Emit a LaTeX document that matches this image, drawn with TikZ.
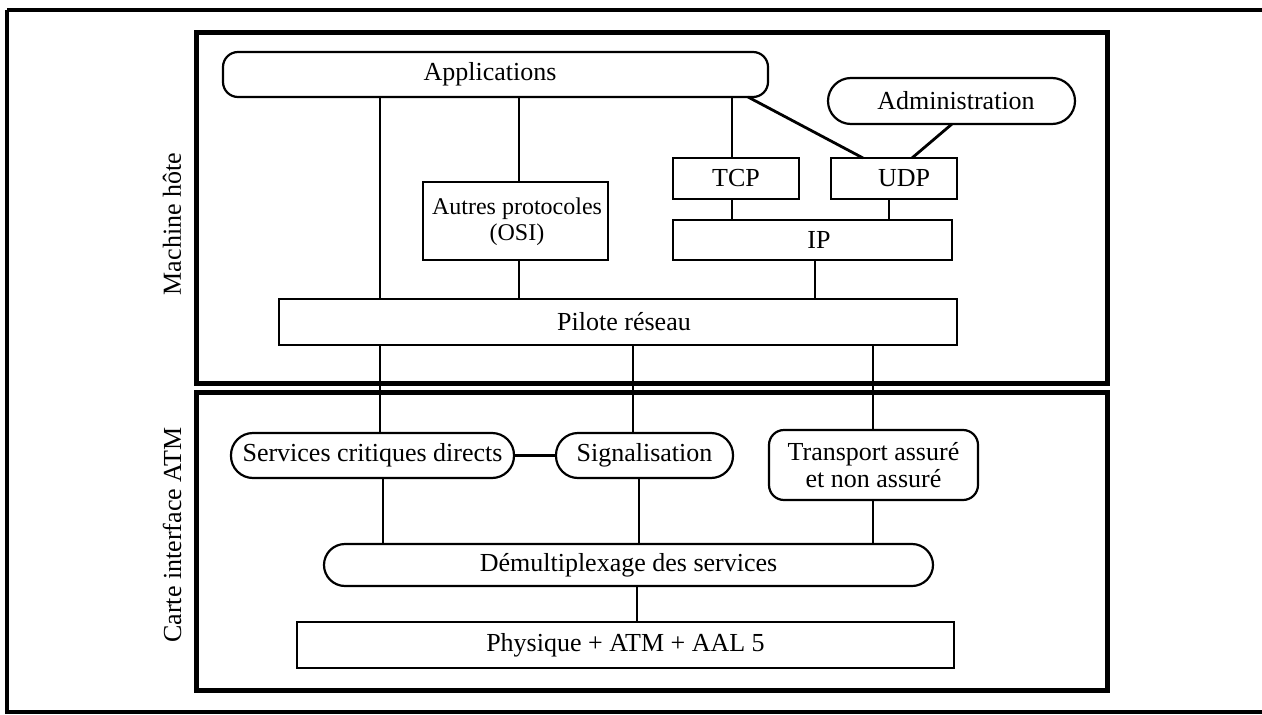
\documentclass[tikz,border=0pt]{standalone}
\usepackage{fontspec}
\setmainfont{Liberation Serif}
\begin{document}
\begin{tikzpicture}[x=1pt,y=-1pt,
  every node/.style={font=\fontsize{26}{27}\selectfont, inner sep=0pt, outer sep=0pt},
  sqbox/.style={draw, line width=2.2pt, rectangle, align=center},
  rbox/.style={draw, line width=2.2pt, rectangle, rounded corners=#1, align=center},
  conn/.style={line width=2.8pt},
  frame/.style={line width=5pt},
  outerframe/.style={line width=3.5pt}]
\useasboundingbox (0,0) rectangle (1262,715);
% frames
\draw[outerframe] (7,10) -- (1275,10) (7,10) -- (7,712) -- (1275,712);
\node[draw, frame, minimum width=911pt, minimum height=351pt, anchor=north west] (host) at (196,32) {};
\node[draw, frame, minimum width=911pt, minimum height=298pt, anchor=north west] (card) at (196,392) {};
\node[rotate=90] (lhost) at (172,224) {Machine hôte};
\node[rotate=90] (lcard) at (172,535) {Carte interface ATM};
% nodes
\node[rbox=15pt, minimum width=545pt, minimum height=45pt] (app) at (495.5,74.5) {};
\node (apptxt) at (490,74.5) {Applications};
\node[rbox=23pt, minimum width=247pt, minimum height=46pt] (admin) at (951.5,101) {};
\node (admintxt) at (956,101) {Administration};
\node[sqbox, minimum width=126pt, minimum height=41pt] (tcp) at (736,178.5) {TCP};
\node[sqbox, minimum width=126pt, minimum height=41pt] (udp) at (894,178.5) {};
\node (udptxt) at (904,178.5) {UDP};
\node[sqbox, minimum width=185pt, minimum height=78pt] (autres) at (515.5,221) {};
\node[align=center, font=\fontsize{24}{26}\selectfont] (autrestxt) at (517,222) {Autres protocoles\\(OSI)};
\node[sqbox, minimum width=279pt, minimum height=40pt] (ip) at (812.5,240) {};
\node (iptxt) at (819,240) {IP};
\node[sqbox, minimum width=678pt, minimum height=46pt] (pilote) at (618,322) {};
\node (pilotetxt) at (624,322) {Pilote réseau};
\node[rbox=22pt, minimum width=283pt, minimum height=45pt] (serv) at (372.5,455.5) {Services critiques directs};
\node[rbox=22pt, minimum width=177pt, minimum height=45pt] (sig) at (644.5,455.5) {Signalisation};
\node[rbox=15pt, minimum width=209pt, minimum height=70pt] (trans) at (873.5,465) {Transport assuré\\et non assuré};
\node[rbox=21pt, minimum width=609pt, minimum height=42pt] (demux) at (628.5,565) {Démultiplexage des services};
\node[sqbox, minimum width=657pt, minimum height=46pt] (phys) at (625.5,645) {Physique + ATM + AAL 5};
% x positions
\coordinate (xa) at (380,0);
\coordinate (xb) at (519,0);
\coordinate (xc) at (732,0);
\coordinate (xd) at (748,0);
\coordinate (xe) at (863,0);
\coordinate (xf) at (952,0);
\coordinate (xg) at (912,0);
\coordinate (xh) at (889,0);
\coordinate (xi) at (815,0);
\coordinate (xj) at (633,0);
\coordinate (xk) at (873,0);
\coordinate (xl) at (383,0);
\coordinate (xm) at (639,0);
\coordinate (xn) at (637,0);
% connectors
\draw[conn] (app.south -| xa) -- (pilote.north -| xa);
\draw[conn] (app.south -| xb) -- (autres.north -| xb);
\draw[conn] (app.south -| xc) -- (tcp.north -| xc);
\draw[conn] (app.south -| xd) -- (udp.north -| xe);
\draw[conn] (admin.south -| xf) -- (udp.north -| xg);
\draw[conn] (tcp.south -| xc) -- (ip.north -| xc);
\draw[conn] (udp.south -| xh) -- (ip.north -| xh);
\draw[conn] (autres.south -| xb) -- (pilote.north -| xb);
\draw[conn] (ip.south -| xi) -- (pilote.north -| xi);
\draw[conn] (pilote.south -| xa) -- (serv.north -| xa);
\draw[conn] (pilote.south -| xj) -- (sig.north -| xj);
\draw[conn] (pilote.south -| xk) -- (trans.north -| xk);
\draw[conn] (serv.east) -- (sig.west);
\draw[conn] (serv.south -| xl) -- (demux.north -| xl);
\draw[conn] (sig.south -| xm) -- (demux.north -| xm);
\draw[conn] (trans.south -| xk) -- (demux.north -| xk);
\draw[conn] (demux.south -| xn) -- (phys.north -| xn);
\end{tikzpicture}
\end{document}
